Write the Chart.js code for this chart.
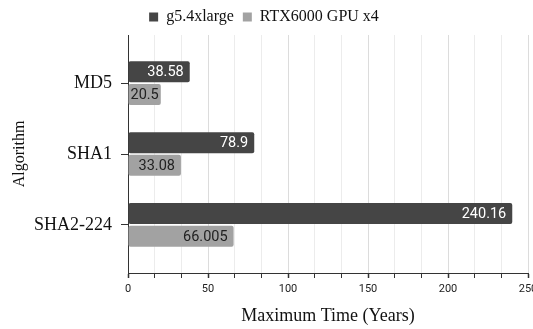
<!DOCTYPE html>
<html>
<head>
<meta charset="utf-8">
<script src="https://cdn.jsdelivr.net/npm/chart.js@4"></script>
<style>
  html, body { margin: 0; padding: 0; background: #fff; overflow: hidden; }
  canvas { display: block; }
</style>
</head>
<body>
<canvas id="myChart" width="533" height="329"></canvas>
<script>
// data
var algorithms = ['MD5', 'SHA1', 'SHA2-224'];
var g5Times = [38.58, 78.9, 240.16];
var rtxTimes = [20.5, 33.08, 66.005];
var xTickLabels = ['0', '50', '100', '150', '200', '250'];

var serif = '"Liberation Serif", "Times New Roman", serif';
var sans = 'Roboto, "Liberation Sans", Arial, sans-serif';

// bars are drawn on a linear index axis so categories can sit with wider margins
function toPoints(values) {
  return values.map(function (v, i) { return { x: v, y: i }; });
}

// draw value labels inside the end of each bar
var barLabels = {
  id: 'barLabels',
  afterDatasetsDraw: function (chart) {
    var ctx = chart.ctx;
    ctx.save();
    ctx.font = '14.5px ' + sans;
    ctx.textAlign = 'right';
    ctx.textBaseline = 'middle';
    chart.data.datasets.forEach(function (ds, di) {
      var meta = chart.getDatasetMeta(di);
      meta.data.forEach(function (bar, i) {
        var text = String(ds.data[i].x);
        var w = ctx.measureText(text).width;
        var x = Math.max(bar.x - 6, bar.base + 2 + w);
        ctx.fillStyle = ds.labelColor;
        ctx.fillText(text, x, bar.y + 1);
      });
    });
    ctx.restore();
  }
};

const ctx = document.getElementById('myChart');
new Chart(ctx, {
  type: 'bar',
  data: {
    datasets: [{
      label: 'g5.4xlarge',
      data: toPoints(g5Times),
      backgroundColor: '#454545',
      labelColor: '#ffffff',
      borderRadius: 2,
      borderSkipped: false,
      categoryPercentage: 0.64,
      barPercentage: 0.93
    },
    {
      label: 'RTX6000 GPU x4',
      data: toPoints(rtxTimes),
      backgroundColor: '#a2a2a2',
      labelColor: '#222222',
      borderRadius: 2,
      borderSkipped: false,
      categoryPercentage: 0.64,
      barPercentage: 0.93
    }]
  },
  plugins: [barLabels],
  options: {
    indexAxis: 'y',
    responsive: false,
    animation: false,
    devicePixelRatio: 1,
    layout: {
      padding: { left: 0, right: 5, top: 0, bottom: 0 }
    },
    plugins: {
      tooltip: { enabled: false },
      legend: {
        position: 'top',
        labels: {
          boxWidth: 9,
          boxHeight: 9,
          padding: 9,
          color: '#111',
          font: { family: serif, size: 16 }
        }
      }
    },
    scales: {
      x: {
        type: 'linear',
        min: 0,
        max: 250,
        afterBuildTicks: function (scale) {
          var t = [];
          for (var i = 0; i <= 15; i++) {
            t.push({ value: i * 250 / 15, major: i % 3 === 0 });
          }
          scale.ticks = t;
        },
        afterFit: function (scale) {
          scale.paddingRight = 0;
          scale.height = 56;
        },
        border: { display: true, color: '#333', width: 1 },
        grid: {
          color: function (c) { return c.tick && c.index % 3 === 0 ? '#dcdcdc' : '#ececec'; },
          tickColor: '#333',
          tickLength: 5,
          tickWidth: function (c) { return c.index % 3 === 0 ? 1.5 : 1; }
        },
        ticks: {
          autoSkip: false,
          maxRotation: 0,
          padding: 5,
          color: '#222',
          font: { family: sans, size: 11 },
          callback: function (value, index) {
            return index % 3 === 0 ? xTickLabels[index / 3] : '';
          }
        },
        title: {
          display: true,
          text: 'Maximum Time (Years)',
          color: '#111',
          font: { family: serif, size: 18 },
          padding: { top: 0, bottom: 2 }
        }
      },
      y: {
        type: 'linear',
        reverse: true,
        offset: false,
        min: -0.68,
        max: 2.68,
        afterBuildTicks: function (scale) {
          scale.ticks = algorithms.map(function (a, i) { return { value: i }; });
        },
        afterFit: function (scale) {
          scale.width = 128;
        },
        border: { display: true, color: '#333', width: 1 },
        grid: {
          offset: false,
          drawOnChartArea: false,
          tickColor: '#333',
          tickLength: 7
        },
        ticks: {
          padding: 9,
          color: '#111',
          font: { family: serif, size: 18 },
          callback: function (value) {
            return algorithms[value];
          }
        },
        title: {
          display: true,
          text: 'Algorithm',
          color: '#111',
          font: { family: serif, size: 16 },
          padding: { top: 10, bottom: 0 }
        }
      }
    }
  }
});
</script>
</body>
</html>
